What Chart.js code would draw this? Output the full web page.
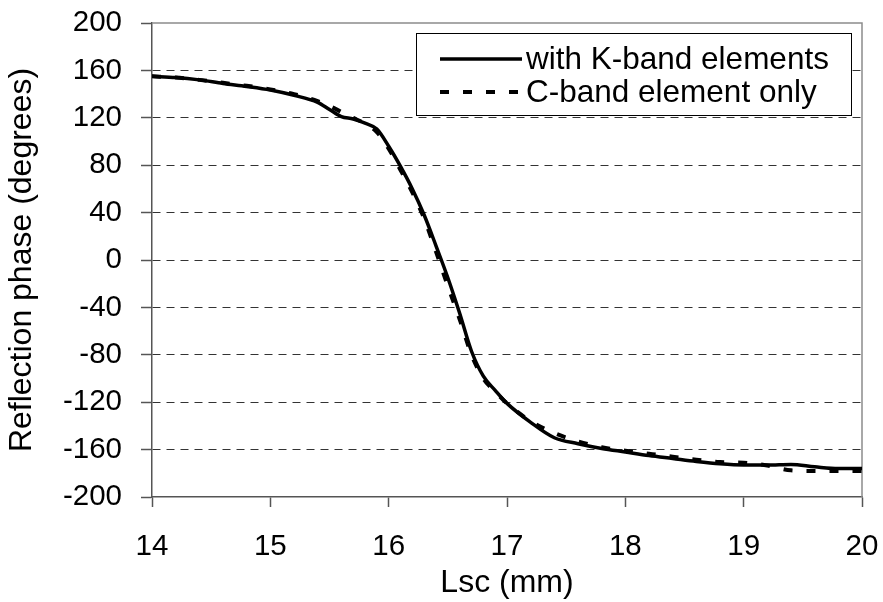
<!DOCTYPE html>
<html>
<head>
<meta charset="utf-8">
<title>Reflection phase vs Lsc</title>
<script src="https://cdn.jsdelivr.net/npm/chart.js@4.4.0/dist/chart.umd.min.js"></script>
<style>
  html, body { margin: 0; padding: 0; background: #fff; }
  #chart { display: block; }
</style>
</head>
<body>
<canvas id="chart" width="883" height="602"></canvas>
<script>
'use strict';

// ── Datos ─────────────────────────────────────────────────
const lsc = [14.0, 14.2, 14.4, 14.6, 14.8, 15.0, 15.2, 15.4, 15.5, 15.6, 15.7, 15.8, 15.9,
             16.0, 16.1, 16.2, 16.3, 16.4, 16.5, 16.6, 16.7, 16.8, 16.9, 17.0, 17.2, 17.4,
             17.6, 17.8, 18.0, 18.2, 18.4, 18.6, 18.8, 19.0, 19.2, 19.4, 19.6, 19.8, 20.0];

const withKBand = [155, 154, 152, 149, 146.5, 143.5, 139, 133, 127, 121, 119, 115.5, 110.5,
                   96, 79, 60, 38, 12, -15, -45, -77, -98, -110, -121, -137, -150,
                   -155, -159, -162, -165, -167.5, -170, -172, -173, -173, -172.5, -174.5, -176, -176];

const cBandOnly = [155, 154, 152, 149.5, 147, 144, 140, 134, 130, 125, 120, 115, 108,
                   94, 76, 57, 35, 7, -22, -50, -80, -100, -111, -121, -136, -146,
                   -153, -158, -161, -163.5, -166, -168.5, -170.5, -171, -173.5, -177.5, -178, -178, -178];

const seriesNames = ['with K-band elements', 'C-band element only'];
const xTitle = 'Lsc (mm)';
const yTitle = 'Reflection phase (degrees)';

const FONT = 'Arial, "Liberation Sans", sans-serif';

const toPoints = (xs, ys) => xs.map((x, i) => ({ x, y: ys[i] }));

// quitar el relleno automático que Chart.js añade por las etiquetas
const noLabelPadding = s => {
    s.paddingLeft = 0;
    s.paddingRight = 0;
    s.paddingTop = 0;
    s.paddingBottom = 0;
};

// ── Marco del área de trazado ─────────────────────────────
const plotFrame = {
    id: 'plotFrame',
    beforeDatasetsDraw(chart) {
        const { ctx, chartArea: a } = chart;
        ctx.save();
        ctx.strokeStyle = '#8c8c8c';
        ctx.lineWidth = 1.5;
        ctx.beginPath();
        ctx.moveTo(a.left, a.top);
        ctx.lineTo(a.right, a.top);
        ctx.lineTo(a.right, a.bottom);
        ctx.stroke();
        ctx.restore();
    }
};

// ── Leyenda dentro del gráfico ────────────────────────────
const boxLegend = {
    id: 'boxLegend',
    afterDraw(chart) {
        const { ctx } = chart;
        const box = { x: 416.5, y: 33.5, w: 435, h: 82 };
        ctx.save();
        ctx.fillStyle = '#fff';
        ctx.fillRect(box.x, box.y, box.w, box.h);
        ctx.strokeStyle = '#000';
        ctx.lineWidth = 1;
        ctx.strokeRect(box.x, box.y, box.w, box.h);

        const rows = [59, 92];
        chart.data.datasets.forEach((ds, i) => {
            ctx.strokeStyle = '#000';
            ctx.lineWidth = ds.borderWidth;
            ctx.setLineDash(ds.borderDash || []);
            ctx.beginPath();
            ctx.moveTo(440, rows[i]);
            ctx.lineTo(522, rows[i]);
            ctx.stroke();
            ctx.setLineDash([]);
            ctx.fillStyle = '#000';
            ctx.font = '31.5px ' + FONT;
            ctx.textBaseline = 'middle';
            ctx.textAlign = 'left';
            ctx.fillText(ds.label, 526, rows[i] + 1);
        });
        ctx.restore();
    }
};

// ── Gráfico ───────────────────────────────────────────────
new Chart(document.getElementById('chart'), {
    type: 'line',
    data: {
        datasets: [
            {
                label: seriesNames[0],
                data: toPoints(lsc, withKBand),
                borderColor: '#000',
                borderWidth: 3.5,
                pointRadius: 0,
                cubicInterpolationMode: 'monotone',
                order: 2
            },
            {
                label: seriesNames[1],
                data: toPoints(lsc, cBandOnly),
                borderColor: '#000',
                borderWidth: 4,
                borderDash: [9, 14],
                pointRadius: 0,
                cubicInterpolationMode: 'monotone',
                order: 1
            }
        ]
    },
    options: {
        responsive: false,
        animation: false,
        layout: { padding: { top: 23, right: 21, left: 0, bottom: 0 } },
        plugins: {
            legend: { display: false },
            tooltip: { enabled: false }
        },
        scales: {
            x: {
                type: 'linear',
                min: 14,
                max: 20,
                afterFit: s => { s.height = 105; noLabelPadding(s); },
                ticks: {
                    stepSize: 1,
                    color: '#000',
                    padding: 22,
                    font: { family: FONT, size: 29.5 }
                },
                grid: {
                    drawOnChartArea: false,
                    drawTicks: true,
                    tickLength: 10,
                    tickColor: '#555',
                    tickWidth: 1.5,
                    tickBorderDash: []
                },
                border: { color: '#555', width: 1.5 },
                title: {
                    display: true,
                    text: xTitle,
                    color: '#000',
                    font: { family: FONT, size: 32 },
                    padding: { top: 0, bottom: 0 }
                }
            },
            y: {
                min: -200,
                max: 200,
                afterFit: s => { s.width = 152; noLabelPadding(s); },
                ticks: {
                    stepSize: 40,
                    color: '#000',
                    padding: 19,
                    font: { family: FONT, size: 29.5 }
                },
                grid: {
                    color: ctx => (ctx.tick && Math.abs(ctx.tick.value) === 200) ? 'rgba(0,0,0,0)' : '#333',
                    lineWidth: 1,
                    tickLength: 11,
                    tickColor: '#555',
                    tickWidth: 1.5,
                    tickBorderDash: []
                },
                border: { color: '#555', width: 1.5, dash: [8, 6] },
                title: {
                    display: true,
                    text: yTitle,
                    color: '#000',
                    font: { family: FONT, size: 32 },
                    padding: { top: 3, bottom: 0 }
                }
            }
        }
    },
    plugins: [plotFrame, boxLegend]
});
</script>
</body>
</html>
